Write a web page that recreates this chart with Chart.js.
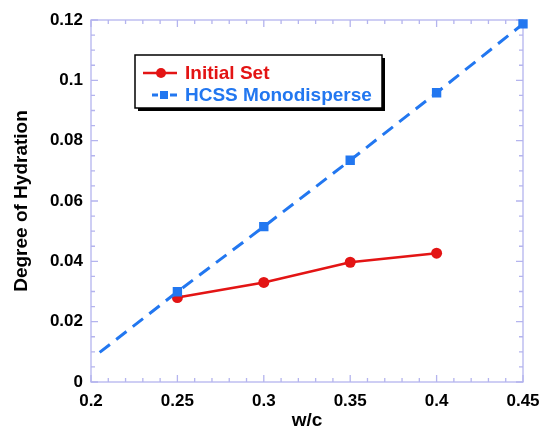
<!DOCTYPE html>
<html lang="en">
<head>
    <meta charset="UTF-8">
    <title>Degree of Hydration vs w/c</title>
    <script src="https://cdn.jsdelivr.net/npm/chart.js"></script>
    <style>
        html, body { margin: 0; padding: 0; background: #fff; }
        #wrap { width: 541px; height: 432px; }
    </style>
</head>
<body>
    <div id="wrap"><canvas id="hydChart" width="541" height="432"></canvas></div>
    <script>
        // data
        const initialWc = [0.25, 0.3, 0.35, 0.4];
        const initialHyd = [0.028, 0.033, 0.0397, 0.0427];
        const hcssWc = [0.205, 0.25, 0.3, 0.35, 0.4, 0.45];
        const hcssHyd = [0.0098, 0.0299, 0.0515, 0.0735, 0.0959, 0.1187];
        const hcssMarker = [false, true, true, true, true, true];
        const seriesNames = ['Initial Set', 'HCSS Monodisperse'];

        const RED = '#e31414';
        const BLUE = '#2277f0';
        const AXIS = '#b4b4ee';
        const FONT = "'Liberation Sans', Arial, sans-serif";

        const toPts = (xs, ys) => xs.map((x, i) => ({ x: x, y: ys[i] }));

        // inward ticks + frame on all four sides
        const frameTicks = {
            id: 'frameTicks',
            beforeDatasetsDraw(chart) {
                const ctx = chart.ctx, a = chart.chartArea;
                const xs = chart.scales.x, ys = chart.scales.y;
                ctx.save();
                ctx.strokeStyle = AXIS;
                ctx.lineWidth = 1.3;
                ctx.strokeRect(a.left, a.top, a.right - a.left, a.bottom - a.top);
                ctx.beginPath();
                for (let i = 0; i <= 25; i++) {
                    const px = xs.getPixelForValue(0.2 + i * 0.01);
                    const len = i % 5 === 0 ? 7 : 4;
                    ctx.moveTo(px, a.bottom); ctx.lineTo(px, a.bottom - len);
                    ctx.moveTo(px, a.top); ctx.lineTo(px, a.top + len);
                }
                for (let i = 0; i <= 24; i++) {
                    const py = ys.getPixelForValue(i * 0.005);
                    const len = i % 4 === 0 ? 7 : 4;
                    ctx.moveTo(a.left, py); ctx.lineTo(a.left + len, py);
                    ctx.moveTo(a.right, py); ctx.lineTo(a.right - len, py);
                }
                ctx.stroke();
                ctx.restore();
            }
        };

        // boxed legend with drop shadow
        const boxLegend = {
            id: 'boxLegend',
            afterDraw(chart) {
                const ctx = chart.ctx;
                const x0 = 135, y0 = 55, w = 247, h = 53;
                ctx.save();
                ctx.fillStyle = '#000';
                ctx.fillRect(x0 + 3, y0 + 3, w, h);
                ctx.fillStyle = '#fff';
                ctx.fillRect(x0, y0, w, h);
                ctx.strokeStyle = '#000';
                ctx.lineWidth = 1.5;
                ctx.strokeRect(x0, y0, w, h);

                // row 1
                let cy = 73;
                ctx.strokeStyle = RED; ctx.lineWidth = 2.5;
                ctx.beginPath(); ctx.moveTo(143, cy); ctx.lineTo(177, cy); ctx.stroke();
                ctx.fillStyle = RED;
                ctx.beginPath(); ctx.arc(161, cy, 5, 0, Math.PI * 2); ctx.fill();
                ctx.font = 'bold 19px ' + FONT;
                ctx.textBaseline = 'middle';
                ctx.fillText(seriesNames[0], 185, cy + 1);

                // row 2
                cy = 95;
                ctx.strokeStyle = BLUE; ctx.lineWidth = 3;
                ctx.beginPath();
                ctx.moveTo(152, cy); ctx.lineTo(158, cy);
                ctx.moveTo(170, cy); ctx.lineTo(177, cy);
                ctx.stroke();
                ctx.fillStyle = BLUE;
                ctx.fillRect(160, cy - 4, 8, 8);
                ctx.fillText(seriesNames[1], 185, cy + 1);
                ctx.restore();
            }
        };

        const fmt = v => String(Math.round(v * 1000) / 1000);

        new Chart(document.getElementById('hydChart'), {
            type: 'scatter',
            data: {
                datasets: [
                    {
                        label: seriesNames[1],
                        data: toPts(hcssWc, hcssHyd),
                        showLine: true,
                        clip: false,
                        borderColor: BLUE,
                        backgroundColor: BLUE,
                        borderWidth: 3,
                        borderDash: [13, 8],
                        pointStyle: 'rect',
                        pointRadius: hcssMarker.map(m => m ? 4.5 : 0),
                        borderCapStyle: 'butt'
                    },
                    {
                        label: seriesNames[0],
                        data: toPts(initialWc, initialHyd),
                        showLine: true,
                        clip: false,
                        borderColor: RED,
                        backgroundColor: RED,
                        borderWidth: 2.5,
                        pointStyle: 'circle',
                        pointRadius: 5.5,
                        pointBorderWidth: 0
                    }
                ]
            },
            options: {
                responsive: false,
                animation: false,
                layout: { padding: { left: 0, right: 18, top: 20, bottom: 0 } },
                plugins: { legend: { display: false }, tooltip: { enabled: false } },
                scales: {
                    x: {
                        type: 'linear',
                        min: 0.2, max: 0.45,
                        afterFit: s => { s.height = 50; s.paddingRight = 0; s.paddingLeft = 0; },
                        grid: { display: false, drawTicks: false },
                        border: { display: false },
                        ticks: {
                            stepSize: 0.05, padding: 9, color: '#000',
                            font: { family: FONT, size: 17, weight: 'bold' },
                            callback: fmt, maxRotation: 0
                        },
                        title: {
                            display: true, text: 'w/c', color: '#000',
                            font: { family: FONT, size: 19, weight: 'bold' },
                            padding: { top: 0, bottom: 0 }
                        }
                    },
                    y: {
                        type: 'linear',
                        min: 0, max: 0.12,
                        afterFit: s => { s.width = 91; s.paddingTop = 0; s.paddingBottom = 0; },
                        grid: { display: false, drawTicks: false },
                        border: { display: false },
                        ticks: {
                            stepSize: 0.02, padding: 8, color: '#000',
                            font: { family: FONT, size: 17, weight: 'bold' },
                            callback: fmt
                        },
                        title: {
                            display: true, text: 'Degree of Hydration', color: '#000',
                            font: { family: FONT, size: 19, weight: 'bold' },
                            padding: { top: 10, bottom: 4 }
                        }
                    }
                }
            },
            plugins: [frameTicks, boxLegend]
        });
    </script>
</body>
</html>
